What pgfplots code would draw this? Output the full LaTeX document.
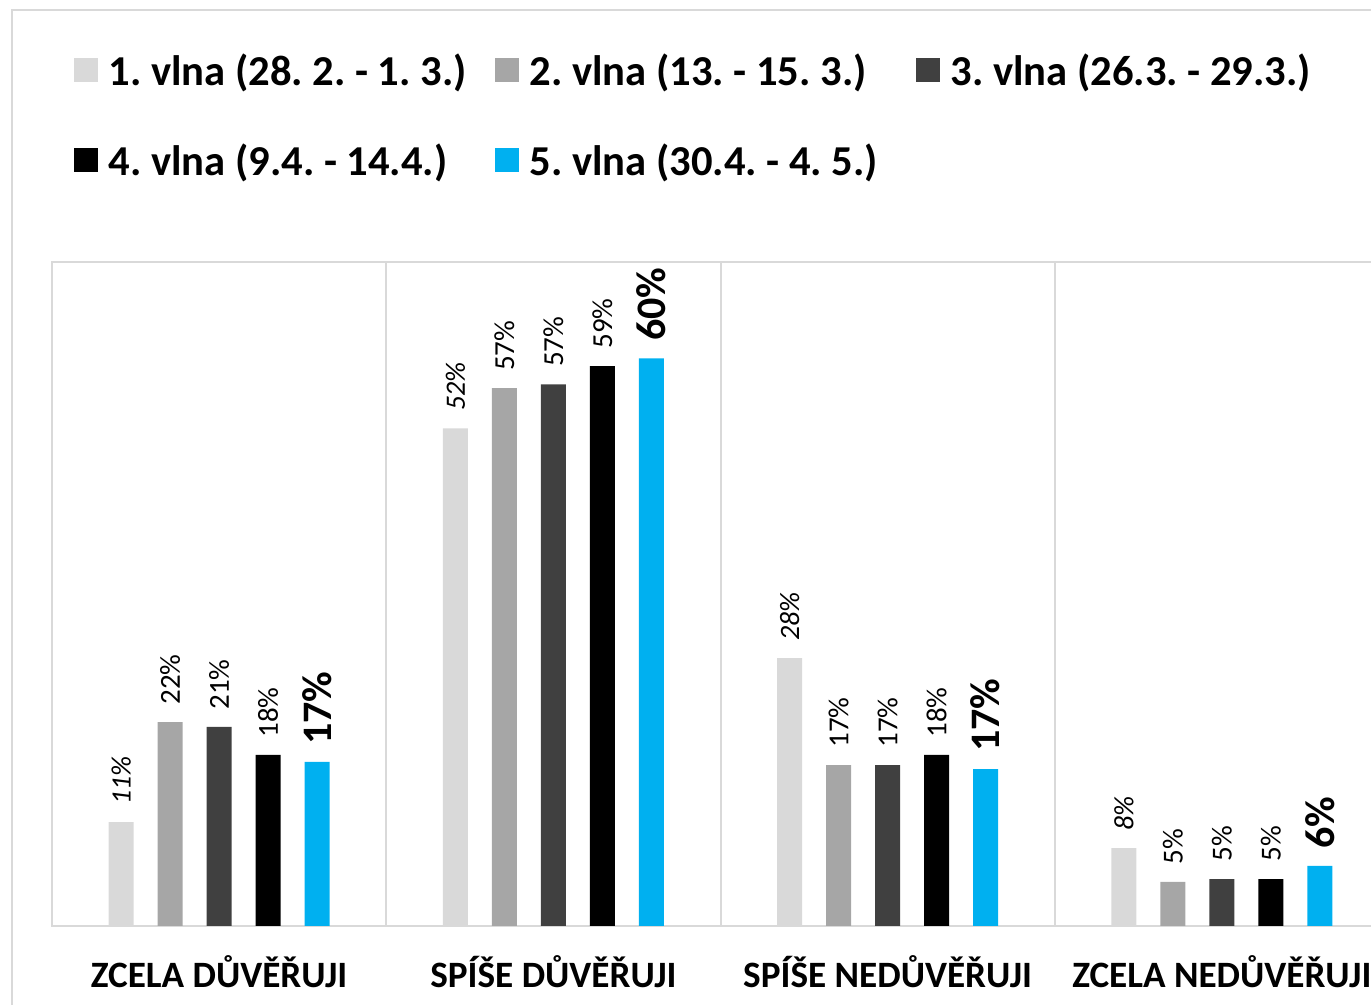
\documentclass[border=0pt]{standalone}
\usepackage{pgfplots}
\pgfplotsset{compat=1.18}
\usepackage{fontspec}
\setmainfont{Carlito}
\frenchspacing
\definecolor{w1}{HTML}{D9D9D9}
\definecolor{w2}{HTML}{A6A6A6}
\definecolor{w3}{HTML}{404040}
\definecolor{w4}{HTML}{000000}
\definecolor{w5}{HTML}{00B0F0}
\definecolor{lgray}{HTML}{D9D9D9}
\begin{document}
\begin{tikzpicture}
\path[use as bounding box] (-26pt,-39.5pt) rectangle (659.5pt,463pt);
\clip (-26pt,-39.5pt) rectangle (659.5pt,463pt);
\draw[lgray, line width=1pt] (-20pt,-80pt) rectangle (720pt,458pt);
\begin{axis}[
  at={(0,0)}, anchor=south west,
  scale only axis, width=668.5pt, height=332pt,
  ymin=0, ymax=70, xmin=-0.5, xmax=3.5,
  ybar, bar width=12.5pt,
  xtick={0,1,2,3},
  xticklabels={ZCELA DŮVĚŘUJI, SPÍŠE DŮVĚŘUJI, SPÍŠE NEDŮVĚŘUJI, ZCELA NEDŮVĚŘUJI},
  ytick=\empty,
  major tick length=0pt, minor tick length=0pt,
  minor xtick={0.5,1.5,2.5}, xminorgrids,
  minor grid style={draw=lgray, line width=1pt},
  axis line style={draw=lgray, line width=1pt},
  xticklabel style={font=\bfseries\fontsize{18.6}{20}\selectfont, anchor=base, yshift=-31pt},
  point meta=explicit symbolic,
  nodes near coords={\pgfplotspointmeta\%},
  every node near coord/.append style={anchor=west, inner sep=0pt, yshift=8.5pt, rotate=90, text=black},
  legend columns=3,
  legend cell align=left,
  legend image code/.code={\fill[#1] (0pt,-5.5pt) rectangle (12pt,6.5pt);},
  legend style={draw=none, fill=none, at={(0.0165,1.3200)}, anchor=north west,
    font=\bfseries\fontsize{21.3}{25}\selectfont, row sep=23.5pt, inner sep=0pt,
    /tikz/every even column/.append style={column sep=0pt}},
]
\addplot[fill=w1, draw=none, bar shift=-49pt,
  nodes near coords style={font=\itshape\fontsize{14}{16}\selectfont}]
  coordinates {(0,10.96) [11] (1,52.47) [52] (2,28.25) [28] (3,8.22) [8]};
\addlegendentry{\makebox[194.5pt][l]{\hspace{3pt}1. vlna (28. 2. - 1. 3.)}}
\addplot[fill=w2, draw=none, bar shift=-24.5pt,
  nodes near coords style={font=\fontsize{14.5}{16}\selectfont}]
  coordinates {(0,21.5) [22] (1,56.7) [57] (2,16.97) [17] (3,4.64) [5]};
\addlegendentry{\makebox[194.5pt][l]{\hspace{3pt}2. vlna (13. - 15. 3.)}}
\addplot[fill=w3, draw=none, bar shift=0pt,
  nodes near coords style={font=\fontsize{14.5}{16}\selectfont}]
  coordinates {(0,20.98) [21] (1,57.1) [57] (2,16.97) [17] (3,4.95) [5]};
\addlegendentry{\makebox[194.5pt][l]{\hspace{3pt}3. vlna (26.3. - 29.3.)}}
\addplot[fill=w4, draw=none, bar shift=24.5pt,
  nodes near coords style={font=\fontsize{14.5}{16}\selectfont}]
  coordinates {(0,18.03) [18] (1,59.03) [59] (2,18.03) [18] (3,4.95) [5]};
\addlegendentry{\makebox[194.5pt][l]{\hspace{3pt}4. vlna (9.4. - 14.4.)}}
\addplot[fill=w5, draw=none, bar shift=49pt,
  nodes near coords style={font=\bfseries\fontsize{21}{22}\selectfont}]
  coordinates {(0,17.29) [17] (1,59.85) [60] (2,16.55) [17] (3,6.33) [6]};
\addlegendentry{\makebox[194.5pt][l]{\hspace{3pt}5. vlna (30.4. - 4. 5.)}}
\end{axis}
\end{tikzpicture}
\end{document}
